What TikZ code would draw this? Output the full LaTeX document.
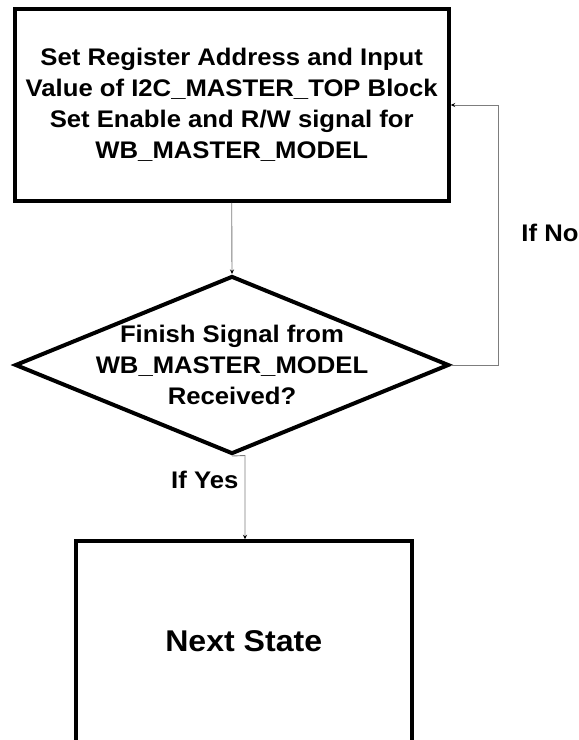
\documentclass[tikz,border=0pt]{standalone}
\usepackage{fontspec}
\setmainfont{Liberation Sans}[FakeStretch=1.07]
\usetikzlibrary{shapes.geometric,arrows.meta}
\definecolor{linkgray}{RGB}{125,125,125}
\begin{document}
\begin{tikzpicture}[x=1pt,y=-1pt,
  font=\bfseries\fontsize{24}{31}\selectfont,
  block/.style={draw=black, line width=4pt, rectangle, inner sep=0pt, align=center},
  decision/.style={draw=black, line width=4pt, diamond, inner sep=0pt},
  flow/.style={draw=linkgray, line width=0.9pt, -{Stealth[length=4.5pt,width=4pt,black]}},
  tag/.style={inner sep=0pt, align=center}]
\useasboundingbox (0,0) rectangle (579,740);

% process block
\node[block, minimum width=434pt, minimum height=192pt] (setup) at (231.7,104.9)
  {Set Register Address and Input\\Value of I2C\_MASTER\_TOP Block\\Set Enable and R/W signal for\\WB\_MASTER\_MODEL};

% decision
\node[decision, minimum width=434pt, minimum height=178pt] (check) at (232,365) {};
\node[tag] (checktext) at (check.center)
  {Finish Signal from\\WB\_MASTER\_MODEL\\Received?};

% following state
\node[block, minimum width=336.5pt, minimum height=200.2pt,
      font=\bfseries\fontsize{30}{36}\selectfont] (next) at (243.75,641.4) {Next State};

% connectors
\coordinate (noturn) at (498,105);
\coordinate (yesturn) at (245,455.5);
\draw[flow] (setup.south) -- (check.north);
\draw[flow] (check.east) -| (noturn) -- (setup.east |- noturn);
\draw[flow] (check.south) -- (yesturn) -- (yesturn |- next.north);

% branch labels
\node[tag] (nolabel) at (550,233) {If No};
\node[tag, anchor=east] (yeslabel) at (238.5,480) {If Yes};
\end{tikzpicture}
\end{document}
